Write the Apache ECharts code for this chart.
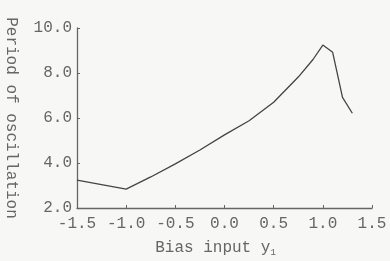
<!DOCTYPE html>
<html>
<head>
<meta charset="utf-8">
<script src="https://cdn.jsdelivr.net/npm/echarts@6/dist/echarts.min.js"></script>
<style>
  html, body { margin: 0; padding: 0; background: #f7f7f5; }
  #chart { width: 390px; height: 261px; }
</style>
</head>
<body>
<div id="chart"></div>
<script>
// bias input y1 vs period of oscillation
const biasInput = [-1.5, -1.0, -0.75, -0.5, -0.25, 0.0, 0.25, 0.5, 0.75, 0.9, 1.0, 1.1, 1.2, 1.3];
const period = [3.24, 2.84, 3.38, 3.96, 4.58, 5.25, 5.88, 6.7, 7.82, 8.6, 9.24, 8.92, 6.92, 6.21];
const xTicks = ["-1.5", "-1.0", "-0.5", "0.0", "0.5", "1.0", "1.5"];

const font = "Liberation Mono";
const ink = "#666";

const option = {
  backgroundColor: "#f7f7f5",
  animation: false,
  grid: { left: 77, right: 18, top: 28, bottom: 53, outerBoundsMode: "none", containLabel: false },
  xAxis: {
    type: "value",
    min: -1.5,
    max: 1.5,
    interval: 0.5,
    name: "Bias input y{sub|1}",
    nameLocation: "middle",
    nameGap: 30,
    nameTextStyle: {
      fontFamily: font, fontSize: 16, color: ink, padding: [0, 18, 0, 0],
      rich: { sub: { fontFamily: font, fontSize: 9, color: ink, verticalAlign: "bottom", padding: [10, 0, 0, 0] } }
    },
    axisLine: { onZero: false, lineStyle: { color: "#666", width: 1.3 } },
    axisTick: { inside: true, length: 3, lineStyle: { color: "#666" } },
    axisLabel: {
      fontFamily: font, fontSize: 16, color: ink, margin: 8,
      formatter: v => xTicks[Math.round((v + 1.5) / 0.5)]
    },
    splitLine: { show: false }
  },
  yAxis: {
    type: "value",
    min: 2,
    max: 10,
    interval: 2,
    name: "Period of oscillation",
    nameLocation: "middle",
    nameRotate: -90,
    nameGap: 58,
    nameTextStyle: { fontFamily: font, fontSize: 16, color: ink },
    axisLine: { show: true, onZero: false, lineStyle: { color: "#666", width: 1.3 } },
    axisTick: { show: true, inside: true, length: 3, lineStyle: { color: "#666" } },
    axisLabel: {
      fontFamily: font, fontSize: 16, color: ink, margin: 5,
      formatter: v => v.toFixed(1)
    },
    splitLine: { show: false }
  },
  series: [
    {
      type: "line",
      data: biasInput.map((x, i) => [x, period[i]]),
      showSymbol: false,
      lineStyle: { color: "#444", width: 1.3 }
    }
  ]
};

echarts.init(document.getElementById("chart")).setOption(option);
</script>
</body>
</html>
